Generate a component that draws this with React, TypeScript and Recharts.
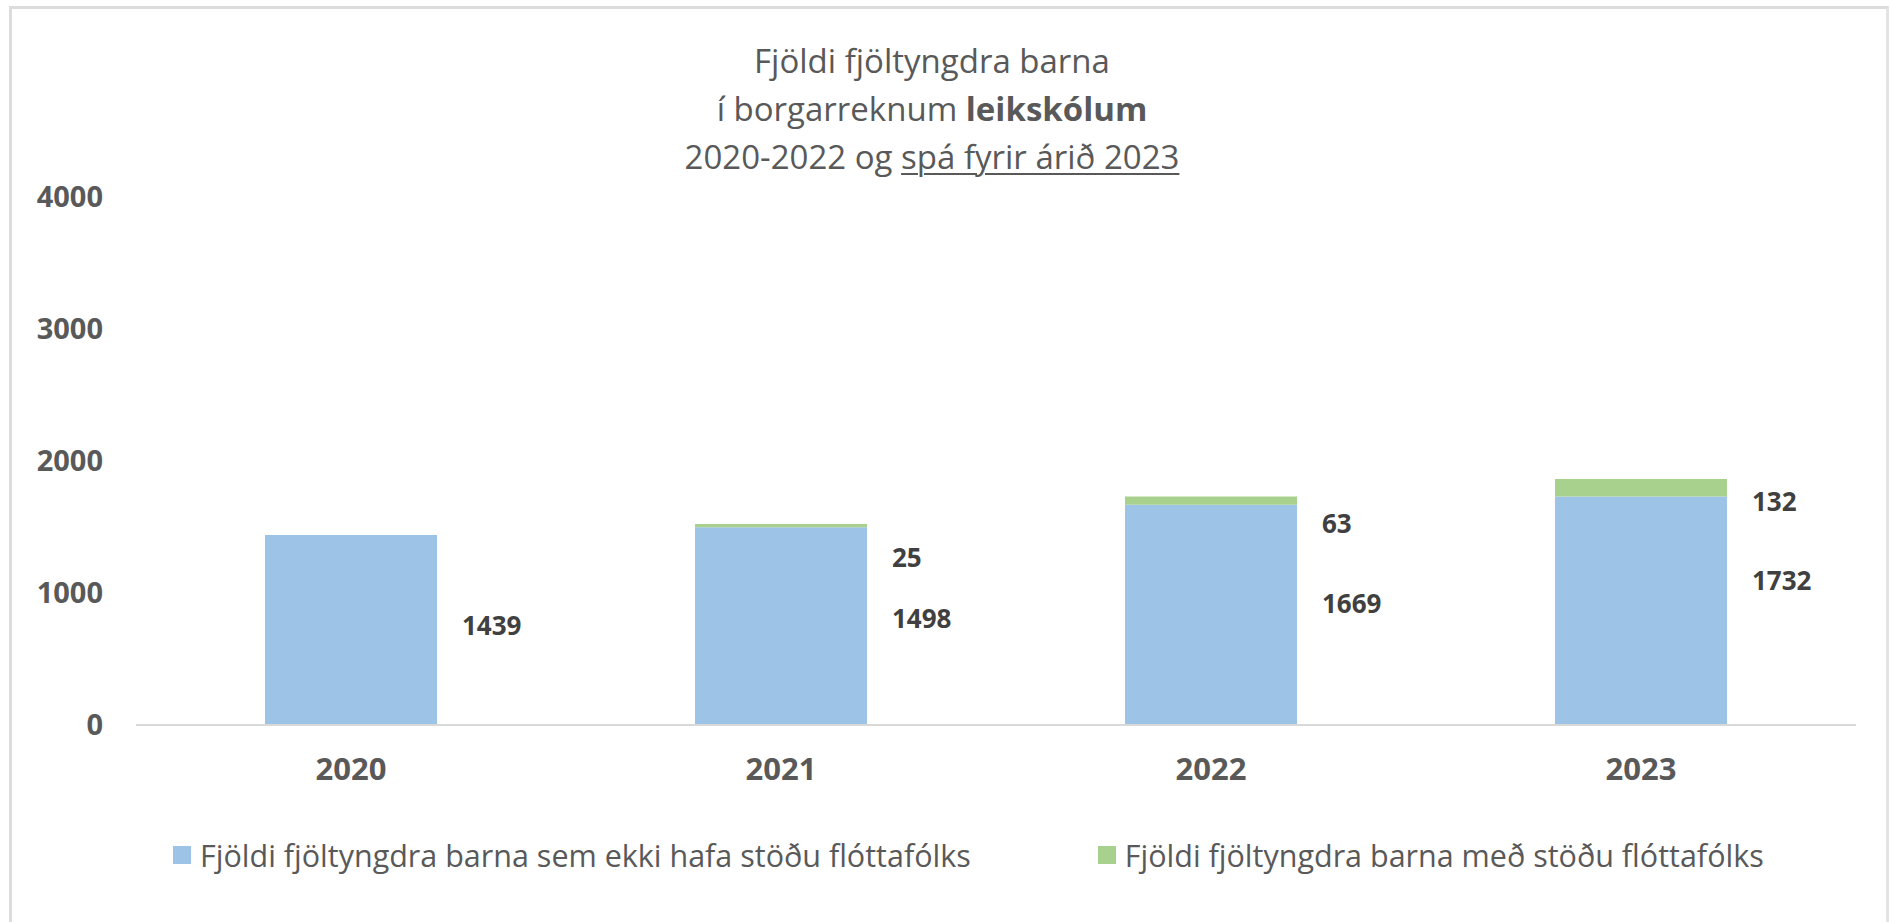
import React from "react";
import { BarChart, Bar, XAxis, YAxis, LabelList } from "recharts";

// values
const years = ["2020", "2021", "2022", "2023"];
const withoutStatus = [1439, 1498, 1669, 1732];
const withStatus = [0, 25, 63, 132];
const yTicks = [0, 1000, 2000, 3000, 4000];

const seriesNames = [
  "Fjöldi fjöltyngdra barna sem ekki hafa stöðu flóttafólks",
  "Fjöldi fjöltyngdra barna með stöðu flóttafólks",
];

// hand-placed label nudges (px), the original labels were dragged around
const blueLabelNudge = [-5, -8, -12, -31];
const greenLabelNudge = [0, 33, 27, 22];

const BLUE = "#9DC3E6";
const GREEN = "#A9D18E";
const TEXT = "#595959";
const LABEL = "#404040";
const FONT = "'Open Sans', sans-serif";

const data = years.map((y, i) => ({
  year: y,
  without: withoutStatus[i],
  with: withStatus[i],
}));

const makeLabel = (kind: "blue" | "green") => (props: any) => {
  const vb = props.viewBox || props;
  const { x, y, width, height } = vb;
  const { value } = props;
  if (!value) return null;
  // zero-height bars get dropped from the label list, so find the year by value
  const i = (kind === "blue" ? withoutStatus : withStatus).indexOf(Number(value));
  const cy =
    kind === "blue"
      ? y + height / 2 + (blueLabelNudge[i] ?? 0)
      : y + (greenLabelNudge[i] ?? 0);
  return (
    <text
      x={x + width + 25}
      y={cy}
      dominantBaseline="central"
      textAnchor="start"
      fill={LABEL}
      fontSize={26}
      fontWeight={700}
      fontFamily={FONT}
    >
      {value}
    </text>
  );
};

export default function App() {
  return (
    <div
      style={{
        position: "absolute",
        left: 0,
        top: 0,
        width: 1892,
        height: 922,
        background: "#fff",
        fontFamily: FONT,
      }}
    >
      {/* frame */}
      <div
        style={{
          position: "absolute",
          left: 9,
          top: 6,
          width: 1880,
          height: 916,
          borderLeft: "3px solid #dcdcdc",
          borderTop: "3px solid #dcdcdc",
          borderRight: "3px solid #e4e4e4",
          boxSizing: "border-box",
        }}
      />

      {/* title */}
      <div
        style={{
          position: "absolute",
          left: 0,
          top: 37,
          width: 1864,
          textAlign: "center",
          fontSize: 33,
          lineHeight: "48px",
          color: TEXT,
        }}
      >
        <div>Fjöldi fjöltyngdra barna</div>
        <div>
          í borgarreknum <b>leikskólum</b>
        </div>
        <div>
          2020-2022 og{" "}
          <span
            style={{
              textDecoration: "underline",
              textDecorationThickness: 2,
              textUnderlineOffset: 4,
            }}
          >
            spá fyrir árið 2023
          </span>
        </div>
      </div>

      <BarChart
        width={1892}
        height={922}
        data={data}
        margin={{ top: 197, right: 36, bottom: 0, left: 0 }}
        barCategoryGap="30%"
      >
        <XAxis
          dataKey="year"
          height={197}
          axisLine={{ stroke: "#d9d9d9", strokeWidth: 2 }}
          tickLine={false}
          tickSize={0}
          tickMargin={33}
          tick={{ fill: TEXT, fontSize: 31, fontWeight: 700, fontFamily: FONT }}
        />
        <YAxis
          width={136}
          domain={[0, 4000]}
          ticks={yTicks}
          axisLine={false}
          tickLine={false}
          tickSize={0}
          tickMargin={33}
          tick={{ fill: TEXT, fontSize: 29, fontWeight: 700, fontFamily: FONT }}
        />
        <Bar dataKey="without" stackId="a" fill={BLUE} isAnimationActive={false}>
          <LabelList dataKey="without" content={makeLabel("blue")} />
        </Bar>
        <Bar dataKey="with" stackId="a" fill={GREEN} isAnimationActive={false}>
          <LabelList dataKey="with" content={makeLabel("green")} />
        </Bar>
      </BarChart>

      {/* legend */}
      <div
        style={{
          position: "absolute",
          left: 173,
          top: 837,
          display: "flex",
          alignItems: "center",
          fontSize: 30.5,
          lineHeight: "36px",
          color: TEXT,
          whiteSpace: "nowrap",
        }}
      >
        {seriesNames.map((name, i) => (
          <div
            key={name}
            style={{ display: "flex", alignItems: "center", marginRight: i === 0 ? 127 : 0 }}
          >
            <span
              style={{
                display: "inline-block",
                width: 18,
                height: 18,
                background: i === 0 ? BLUE : GREEN,
                marginRight: 9,
              }}
            />
            <span>{name}</span>
          </div>
        ))}
      </div>
    </div>
  );
}
